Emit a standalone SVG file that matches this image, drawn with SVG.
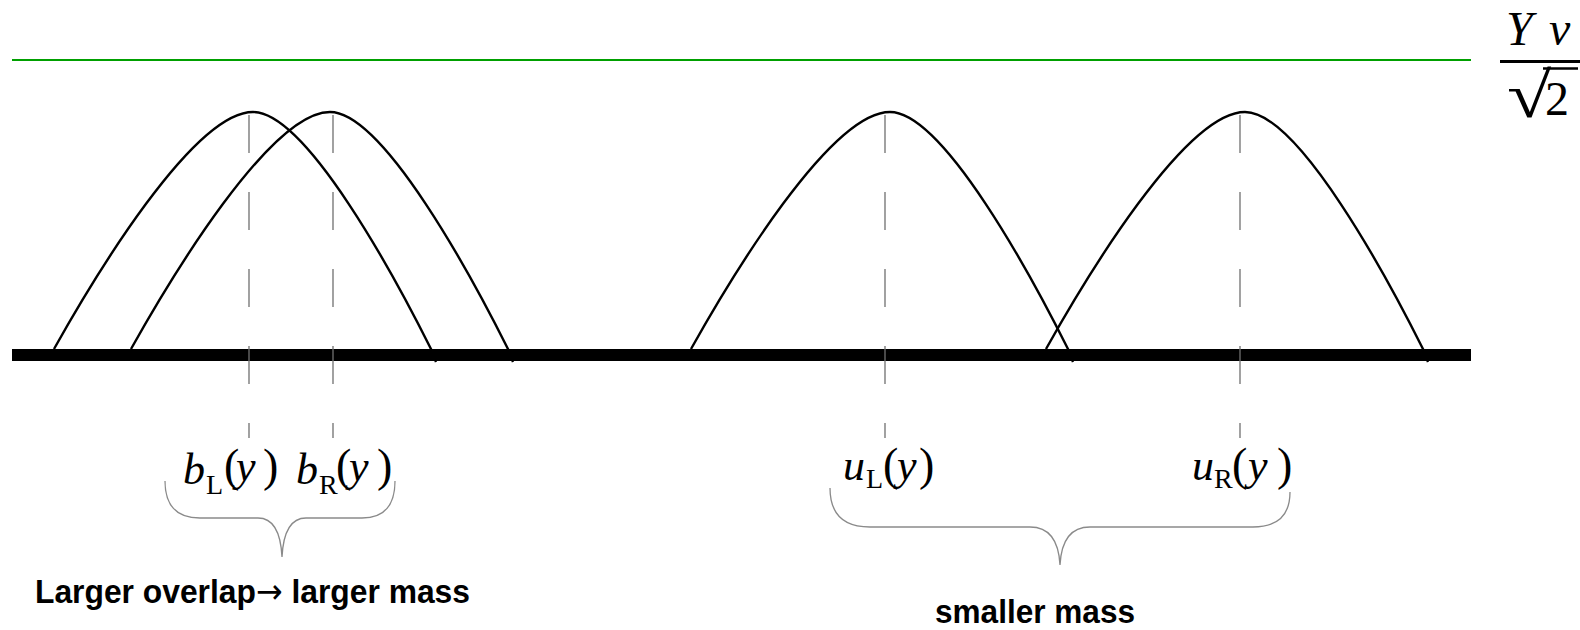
<svg xmlns="http://www.w3.org/2000/svg" width="1580" height="630" viewBox="0 0 1580 630">
<style>
.arc{fill:none;stroke:#000;stroke-width:2.4}
.dash{stroke:#707070;stroke-width:1.3;stroke-dasharray:38 39}
.brace{fill:none;stroke:#8a8a8a;stroke-width:1.3}
.m{font-family:"Liberation Serif","Times New Roman",serif;font-size:44px;fill:#000}
.i{font-style:italic}
.s{font-size:28px}
.p{font-size:46px}
.lbl{font-family:"Liberation Sans",Arial,sans-serif;font-weight:bold;font-size:34px;fill:#000}
</style>
<defs>
<path id="bump" class="arc" d="M-199,349 C-159.2,277.9 -59.7,112 0,112 C53.4,112 142.4,277.9 178,349 l5,13"/>
</defs>
<rect width="1580" height="630" fill="#fff"/>
<g id="threshold">
<line x1="12" y1="60" x2="1471" y2="60" stroke="#00a000" stroke-width="2"/>
</g>
<g id="axis">
<rect x="12" y="349" width="1459" height="12" fill="#000"/>
</g>
<g id="bumps">
<use href="#bump" x="253"/>
<use href="#bump" x="330"/>
<use href="#bump" x="890"/>
<use href="#bump" x="1245"/>
</g>
<g id="connectors">
<line class="dash" x1="249" y1="115" x2="249" y2="438"/>
<line class="dash" x1="333" y1="115" x2="333" y2="438"/>
<line class="dash" x1="885" y1="115" x2="885" y2="438"/>
<line class="dash" x1="1240" y1="115" x2="1240" y2="438"/>
<path class="brace" d="M165,481 Q165,518 200,518 L258,518 Q280,518 282,557 Q284,518 306,518 L362,518 Q395,518 395,481"/>
<path class="brace" d="M830,488 Q830,527 870,527 L1030,527 Q1058,527 1060,565 Q1062,527 1090,527 L1253,527 Q1290,527 1290,492"/>
</g>
<g id="label-bL">
<text class="m i" x="183" y="484">b</text>
<text class="m s" x="206" y="494">L</text>
<text class="m p" x="224" y="481">(</text>
<text class="m i" x="236" y="481">y</text>
<text class="m p" x="263" y="481">)</text>
</g>
<g id="label-bR">
<text class="m i" x="296" y="484">b</text>
<text class="m s" x="319" y="494">R</text>
<text class="m p" x="336" y="481">(</text>
<text class="m i" x="349" y="481">y</text>
<text class="m p" x="377" y="481">)</text>
</g>
<g id="label-uL">
<text class="m i" x="843" y="480">u</text>
<text class="m s" x="866" y="488">L</text>
<text class="m p" x="883" y="480">(</text>
<text class="m i" x="897" y="480">y</text>
<text class="m p" x="919" y="480">)</text>
</g>
<g id="label-uR">
<text class="m i" x="1192" y="480">u</text>
<text class="m s" x="1214" y="488">R</text>
<text class="m p" x="1232" y="480">(</text>
<text class="m i" x="1248" y="480">y</text>
<text class="m p" x="1277" y="480">)</text>
</g>
<g id="label-Yv">
<text class="m i" x="1506" y="45" style="font-size:48px">Y</text>
<text class="m i" x="1549" y="45" style="font-size:48px">v</text>
<line x1="1500" y1="61.5" x2="1580" y2="61.5" stroke="#000" stroke-width="3"/>
<text class="m" transform="translate(1507,117) scale(1.26,1)" x="0" y="0" style="font-size:64px">√</text>
<line x1="1543" y1="68.5" x2="1578" y2="68.5" stroke="#000" stroke-width="2.5"/>
<text class="m" x="1545" y="115" style="font-size:48px">2</text>
</g>
<g id="caption-left">
<text class="lbl" x="35" y="603" textLength="435" lengthAdjust="spacingAndGlyphs">Larger overlap<tspan style="font-family:'DejaVu Sans',sans-serif;font-weight:normal">→</tspan> larger mass</text>
</g>
<g id="caption-right">
<text class="lbl" x="935" y="623" textLength="200" lengthAdjust="spacingAndGlyphs">smaller mass</text>
</g>
</svg>
